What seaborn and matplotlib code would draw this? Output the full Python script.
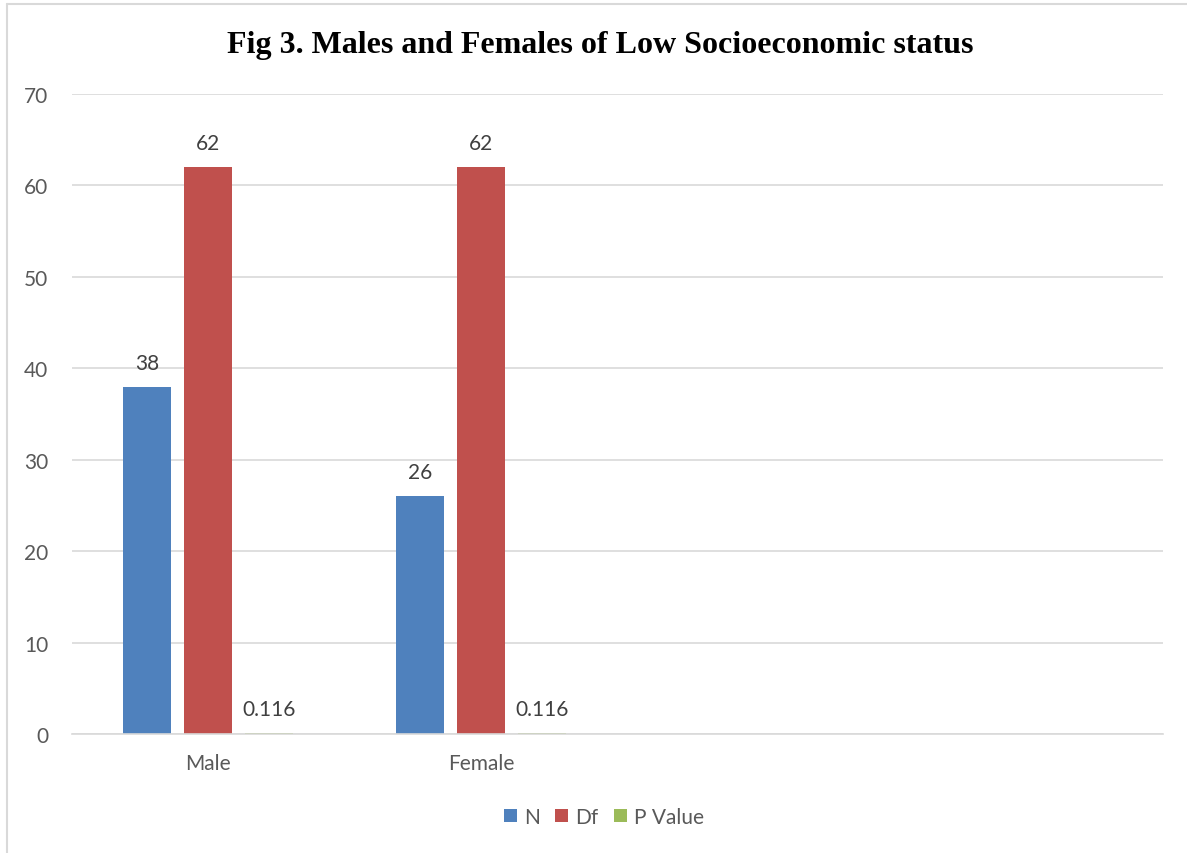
import matplotlib
matplotlib.use("Agg")
import matplotlib.pyplot as plt
from matplotlib.lines import Line2D
import seaborn as sns
import pandas as pd

categories = ["Male", "Female"]
series = ["N", "Df", "P Value"]
n_values = [38, 26]
df_values = [62, 62]
p_values = [0.116, 0.116]
colors = ["#4F81BD", "#C0504D", "#9BBB59"]
title = "Fig 3. Males and Females of Low Socioeconomic status"

sns.set_theme(style="white")
plt.rcParams["font.family"] = ["Lato", "DejaVu Sans"]

rows = []
for s, vals in zip(series, [n_values, df_values, p_values]):
    for c, v in zip(categories, vals):
        rows.append({"cat": c, "series": s, "value": v})
data = pd.DataFrame(rows)

fig = plt.figure(figsize=(11.87, 8.54), dpi=100)
ax = fig.add_axes([72/1187, 1-735/854, (1163-72)/1187, (735-95)/854])

sns.barplot(data=data, x="cat", y="value", hue="series", order=categories,
            hue_order=series, palette=colors, width=0.671, gap=0.21,
            saturation=1, ax=ax, legend=True, edgecolor="none", linewidth=0)

for cont in ax.containers:
    labels = [f"{v:g}" for v in cont.datavalues]
    ax.bar_label(cont, labels=labels, padding=10, fontsize=15, color="#404040")

ax.set_xlim(-0.5, 3.5)
ax.set_ylim(0, 70)
ax.set_yticks(range(0, 71, 10))
ax.yaxis.grid(True, color="#D9D9D9", linewidth=1.2)
ax.set_axisbelow(True)
for sp in ["top", "right", "left"]:
    ax.spines[sp].set_visible(False)
ax.spines["bottom"].set_color("#D9D9D9")
ax.spines["bottom"].set_linewidth(1.2)
ax.tick_params(axis="y", length=0, labelsize=15, labelcolor="#595959", pad=17)
ax.tick_params(axis="x", length=0, labelsize=15, labelcolor="#595959", pad=14)
ax.set_xlabel("")
ax.set_ylabel("")

leg = ax.legend(loc="center", bbox_to_anchor=(604/1187, 1-818/854),
                bbox_transform=fig.transFigure, ncol=3, frameon=False,
                fontsize=15, handlelength=0.6, handleheight=0.6,
                handletextpad=0.35, columnspacing=0.75)
for t in leg.get_texts():
    t.set_color("#595959")

fig.text(600/1187, 1-46/854, title, ha="center", va="center",
         fontsize=23, fontweight="bold", family=["Liberation Serif"], color="black")

fig.add_artist(Line2D([7/1187, 7/1187], [0, 1-5/854], transform=fig.transFigure,
                      color="#D9D9D9", linewidth=1.5))
fig.add_artist(Line2D([7/1187, 1], [1-5/854, 1-5/854], transform=fig.transFigure,
                      color="#D9D9D9", linewidth=1.5))

fig.savefig("out.png", dpi=100, facecolor="white")
